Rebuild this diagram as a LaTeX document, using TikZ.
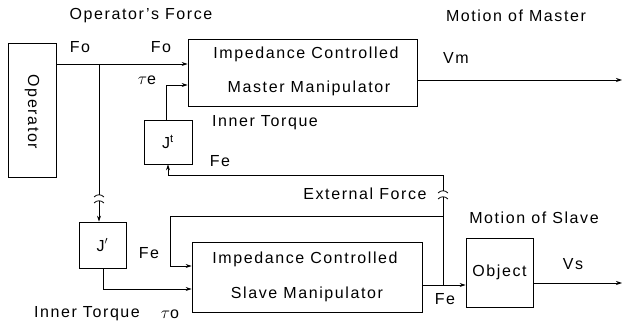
\documentclass[tikz,border=0pt]{standalone}
\usepackage{fontspec}
\setmainfont{Liberation Sans}[LetterSpace=10]
\usetikzlibrary{arrows.meta,calc}
\newcommand\gapmark[1]{\draw ($(#1)+(-5,2)$) .. controls ($(#1)+(-2,-1)$) and ($(#1)+(2,-1)$) .. ($(#1)+(5,2)$);}
\begin{document}
\begin{tikzpicture}[x=1pt,y=-1pt, line width=0.8pt,
 box/.style={draw, rectangle, inner sep=0pt},
 lbl/.style={inner sep=0pt, font=\fontsize{16}{18}\selectfont},
 arr/.style={-{Stealth[length=6pt,width=4pt]}}]
\useasboundingbox (0,0) rectangle (623,331);
% boxes
\node[box, minimum width=48pt, minimum height=134pt] (operator) at (32,110) {};
\node[lbl, rotate=-90] (optext) at (32,112) {Operator};
\node[box, minimum width=229pt, minimum height=67pt] (master) at (302.5,72.5) {};
\node[lbl] (m1) at (306,54) {Impedance Controlled};
\node[lbl] (m2) at (309,88) {Master Manipulator};
\node[box, minimum width=230pt, minimum height=70pt] (slave) at (307,277) {};
\node[lbl] (s1) at (305,259) {Impedance Controlled};
\node[lbl] (s2) at (307,294) {Slave Manipulator};
\node[box, lbl, minimum width=48pt, minimum height=44pt] (jup) at (168,142) {J\textsuperscript{t}};
\node[box, lbl, minimum width=47pt, minimum height=46pt] (jlow) at (102.5,245) {J$'$};
\node[box, lbl, minimum width=67pt, minimum height=69pt] (object) at (499.5,272.5) {Object};
% coordinates
\coordinate (b1) at (99,64);
\coordinate (brkA) at (99,195);
\coordinate (brkB) at (99,201);
\coordinate (te) at (166,85);
\coordinate (to) at (103,289);
\coordinate (fe) at (443,285);
\coordinate (jf) at (443,216);
\coordinate (brkC) at (443,191);
\coordinate (brkD) at (443,197);
\coordinate (tl) at (443,175);
\coordinate (lp) at (170,216);
\coordinate (fe2) at (170,266);
\coordinate (vm) at (622,80);
\coordinate (vs) at (622,283);
% connectors
\draw[arr] (operator.east |- b1) -- (master.west |- b1);
\draw (b1) -- (brkA);
\gapmark{brkA}
\gapmark{brkB}
\draw[arr] (brkB) -- (jlow.north -| brkB);
\draw[arr] (jup.north -| te) -- (te) -- (master.west |- te);
\draw[arr] (jlow.south -| to) -- (to) -- (slave.west |- to);
\draw[arr] (slave.east |- fe) -- (object.west |- fe);
\draw (fe) -- (brkD);
\gapmark{brkC}
\gapmark{brkD}
\draw[arr] (brkC) -- (tl) -| (jup.south);
\draw[arr] (jf) -- (lp) -- (fe2) -- (slave.west |- fe2);
\draw[arr] (master.east |- vm) -- (vm);
\draw[arr] (object.east |- vs) -- (vs);
% labels
\node[lbl] (l1) at (141,16) {Operator's Force};
\node[lbl] (l2) at (80,47) {Fo};
\node[lbl] (l3) at (161,47) {Fo};
\node[lbl] (l4) at (147,80) {$\tau$e};
\node[lbl] (l5) at (265,123) {Inner Torque};
\node[lbl] (l6) at (220,161) {Fe};
\node[lbl] (l7) at (516,16) {Motion of Master};
\node[lbl] (l8) at (456,58) {Vm};
\node[lbl] (l9) at (365,194) {External Force};
\node[lbl] (l10) at (534,218) {Motion of Slave};
\node[lbl] (l11) at (573,264) {Vs};
\node[lbl] (l12) at (445,299) {Fe};
\node[lbl] (l13) at (149,253) {Fe};
\node[lbl] (l14) at (87,314) {Inner Torque};
\node[lbl] (l15) at (170,314) {$\tau$o};
\end{tikzpicture}
\end{document}
